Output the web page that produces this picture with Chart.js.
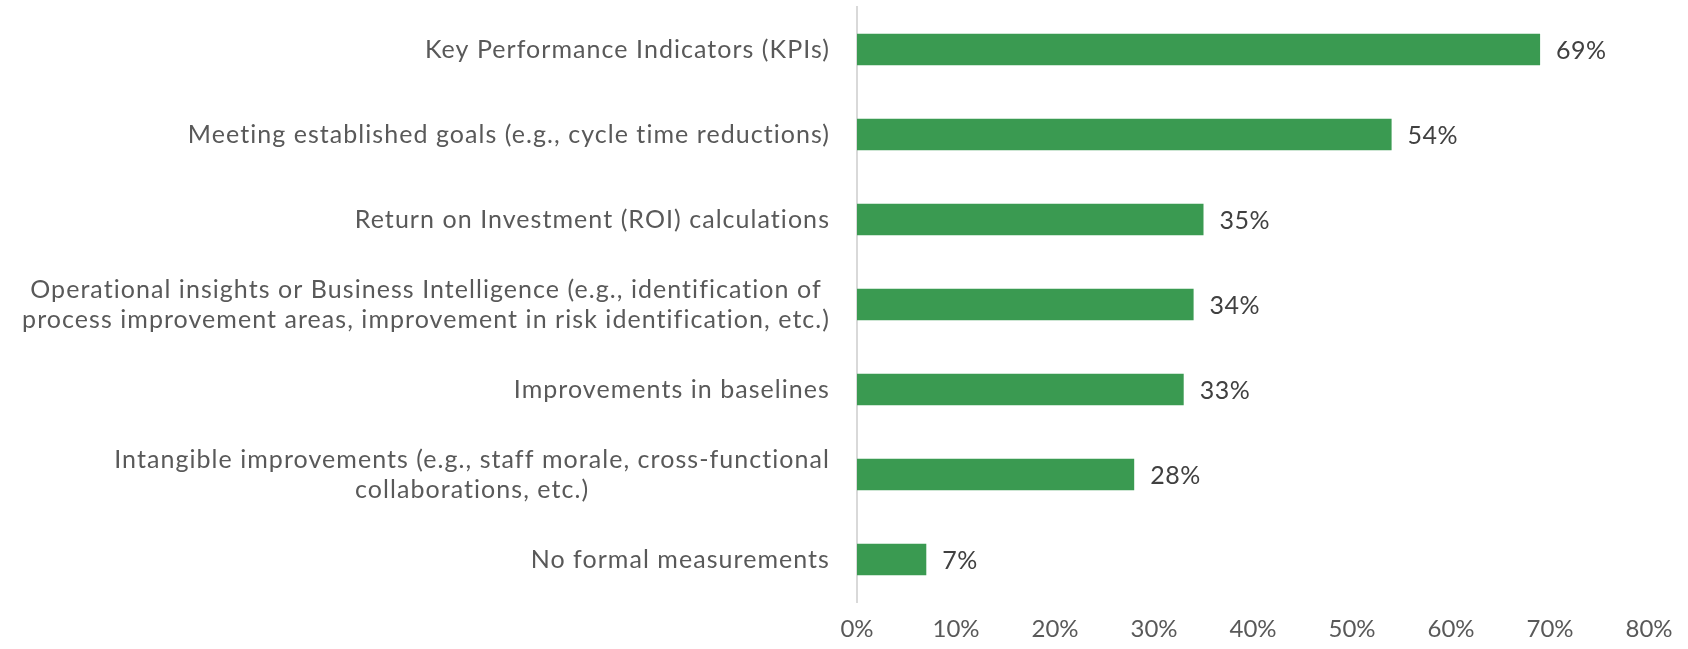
<!DOCTYPE html>
<html>
<head>
<meta charset="utf-8">
<script src="https://cdn.jsdelivr.net/npm/chart.js@4.4.1/dist/chart.umd.min.js"></script>
<style>
  html, body { margin: 0; padding: 0; background: #fff; }
  #wrap { width: 1688px; height: 649px; }
</style>
</head>
<body>
<div id="wrap"><canvas id="chart"></canvas></div>
<script>
const categories = [
    ['Key Performance Indicators (KPIs)'],
    ['Meeting established goals (e.g., cycle time reductions)'],
    ['Return on Investment (ROI) calculations'],
    ['Operational insights or Business Intelligence (e.g., identification of', 'process improvement areas, improvement in risk identification, etc.)'],
    ['Improvements in baselines'],
    ['Intangible improvements (e.g., staff morale, cross-functional', 'collaborations, etc.)'],
    ['No formal measurements']
];
const shares = [69, 54, 35, 34, 33, 28, 7];
const xTicks = [0, 10, 20, 30, 40, 50, 60, 70, 80];

const FONT = 'Lato, "Open Sans", sans-serif';

// category labels, each line centred in its own block, block right-aligned to the axis
const catLabels = {
    id: 'catLabels',
    afterDraw(chart) {
        const ctx = chart.ctx;
        const y = chart.scales.y;
        const right = chart.chartArea.left - 27;
        ctx.save();
        ctx.font = '25px ' + FONT;
        ctx.letterSpacing = '1.05px';
        ctx.fillStyle = '#595959';
        ctx.textAlign = 'center';
        ctx.textBaseline = 'middle';
        const lh = 30;
        categories.forEach((lines, i) => {
            const cy = y.getPixelForTick(i);
            const w = Math.max(...lines.map(l => ctx.measureText(l).width));
            const cx = right - w / 2;
            lines.forEach((l, j) => {
                ctx.fillText(l, cx, cy + (j - (lines.length - 1) / 2) * lh);
            });
        });
        ctx.restore();
    }
};

const valueLabels = {
    id: 'valueLabels',
    afterDatasetsDraw(chart) {
        const ctx = chart.ctx;
        const meta = chart.getDatasetMeta(0);
        ctx.save();
        ctx.font = '25px ' + FONT;
        ctx.letterSpacing = '0.5px';
        ctx.fillStyle = '#404040';
        ctx.textAlign = 'left';
        ctx.textBaseline = 'middle';
        meta.data.forEach((bar, i) => {
            ctx.fillText(shares[i] + '%', bar.x + 16, bar.y + 1);
        });
        ctx.restore();
    }
};

const ctx = document.getElementById('chart').getContext('2d');
const myChart = new Chart(ctx, {
    type: 'bar',
    data: {
        labels: categories.map(c => c.join(' ')),
        datasets: [{
            data: shares,
            backgroundColor: '#3a9a51',
            borderWidth: 0,
            categoryPercentage: 1,
            barPercentage: 0.37
        }]
    },
    options: {
        indexAxis: 'y',
        responsive: true,
        maintainAspectRatio: false,
        animation: false,
        layout: { padding: { top: 7, right: 39, bottom: 0, left: 0 } },
        plugins: {
            legend: { display: false },
            tooltip: { enabled: false }
        },
        scales: {
            x: {
                min: 0,
                max: 80,
                afterBuildTicks(scale) {
                    scale.ticks = xTicks.map(v => ({ value: v }));
                },
                afterFit(scale) { scale.height = 47; },
                grid: { display: false, drawTicks: false },
                border: { display: false },
                ticks: {
                    padding: 13,
                    color: '#595959',
                    font: { family: FONT, size: 24 },
                    callback: v => v + '%'
                }
            },
            y: {
                afterFit(scale) { scale.width = 857; },
                grid: { display: false, drawTicks: false },
                border: { display: true, color: '#d9d9d9', width: 2 },
                ticks: { display: false }
            }
        }
    },
    plugins: [catLabels, valueLabels]
});
</script>
</body>
</html>
